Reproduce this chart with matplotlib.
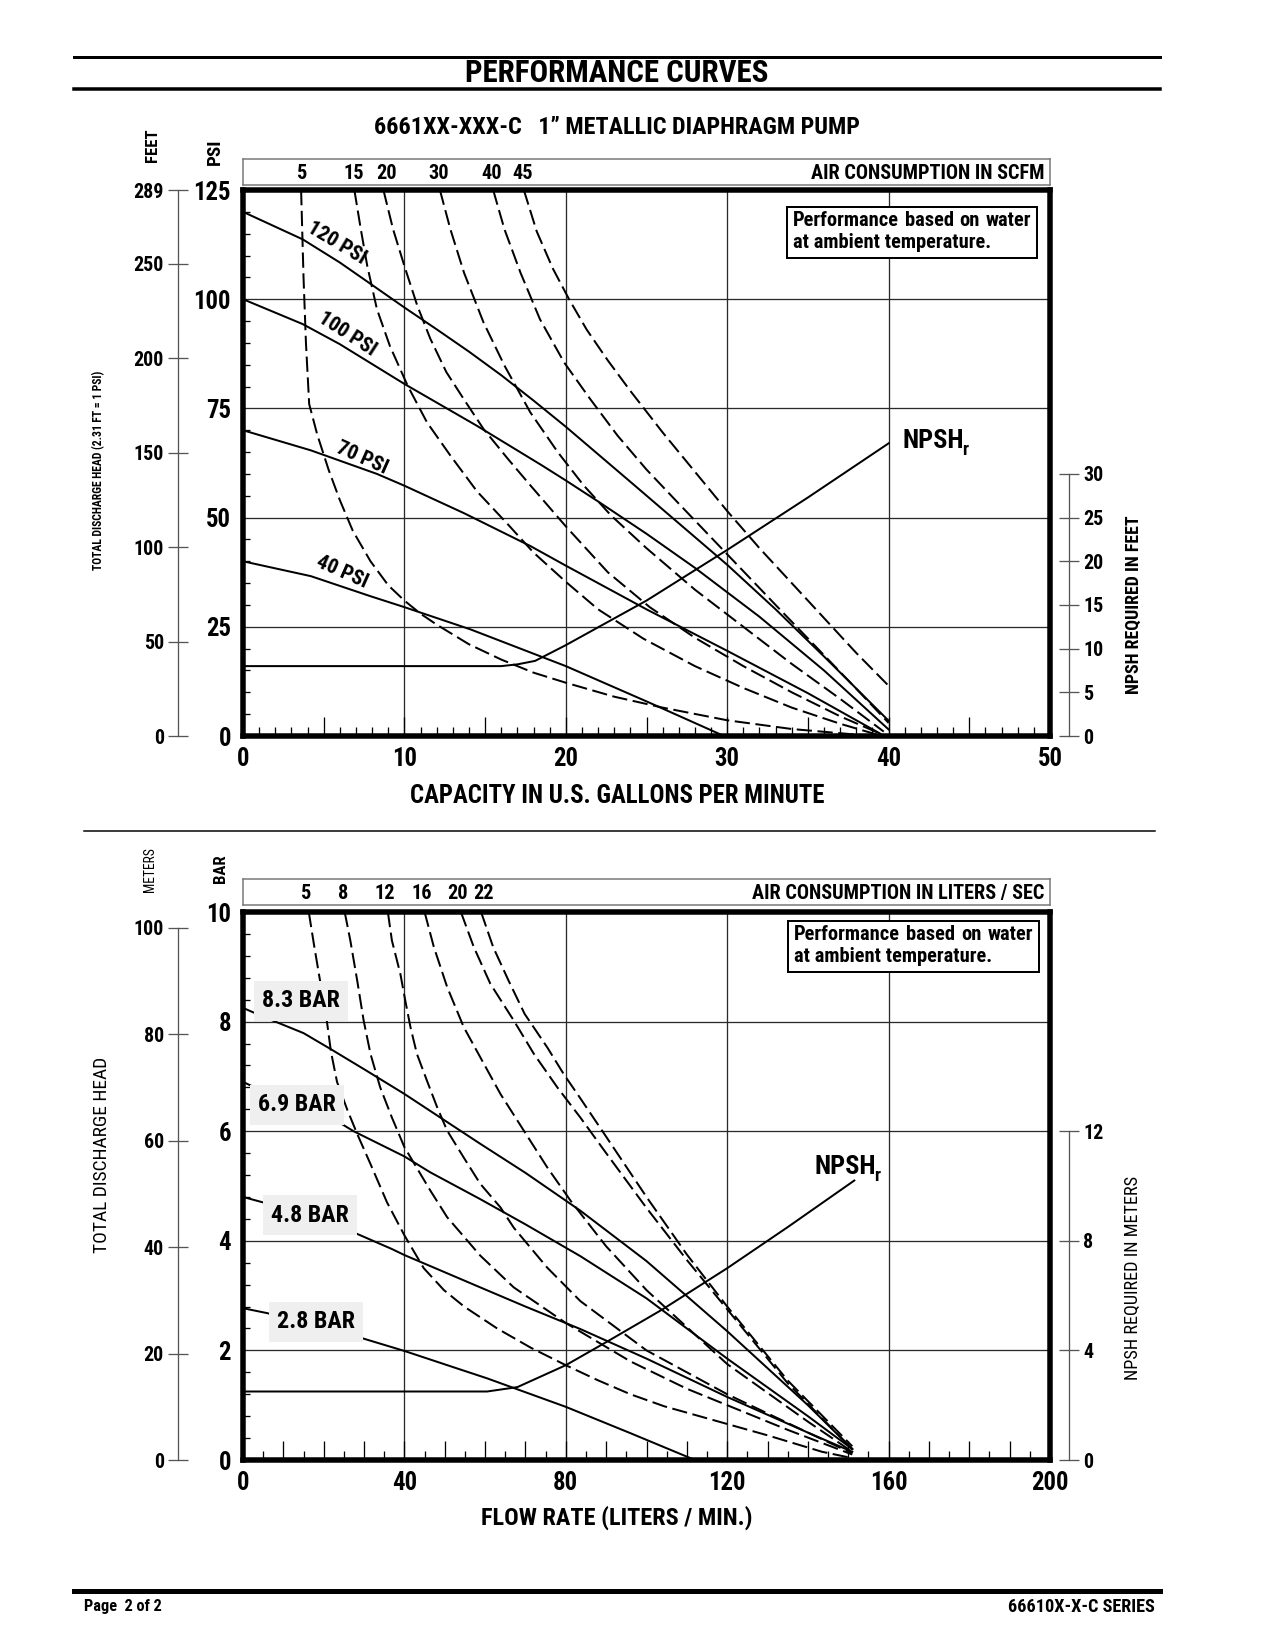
#!/usr/bin/env python3
"""Performance curves sheet for a 1" metallic diaphragm pump (US units on top, metric below)."""
import numpy as np
import matplotlib
matplotlib.use('Agg')
import matplotlib.pyplot as plt
from matplotlib import font_manager as fm
from matplotlib.lines import Line2D
from matplotlib.patches import Rectangle
from matplotlib.ticker import MultipleLocator, FuncFormatter

# ---------------- upper chart: gpm vs psi ----------------
P120_X = [0, 3.7, 6.0, 8.1, 10, 12, 14, 16, 18, 20, 22, 24, 27, 30, 33, 36, 40]
P120_Y = [120, 113.7, 108.4, 103, 98.1, 93.1, 88, 82.6, 76.8, 70.8, 64.5, 58.2, 48.7, 39.2, 29, 18.2, 3.5]
P100_X = [0, 3.7, 6.0, 10, 14.5, 18.5, 20, 22, 25, 28, 32, 36, 40]
P100_Y = [100, 94.3, 89.7, 80.6, 71, 62, 58.5, 53.7, 46.3, 38.5, 27.3, 15, 1.5]
P70_X = [0, 4.2, 8.3, 10, 13.7, 17.8, 20, 25, 30, 35, 39.5]
P70_Y = [70, 65.4, 60, 57.3, 51, 43.5, 39, 29, 19.5, 9.8, 0.5]
P40_X = [0, 4.2, 7.9, 10, 14.1, 20, 25.2, 29.8]
P40_Y = [40, 36.6, 32, 29.5, 24.4, 16, 7.6, 0]
PSI_LABELS = ['120 PSI', '100 PSI', '70 PSI', '40 PSI']

S5_X = [3.6, 3.75, 3.9, 4.1, 4.6, 5.3, 6.0, 6.8, 7.9, 9.0, 10, 11, 12, 14, 16, 18, 20, 23, 26, 30, 34, 39]
S5_Y = [125, 105, 90, 76, 69, 61, 54, 47, 40, 34.5, 31, 28, 25.5, 21, 17.5, 14.5, 12.2, 9.0, 6.5, 3.6, 1.6, 0]
S15_X = [6.9, 7.3, 7.7, 8.3, 9.1, 10.2, 11.4, 12.85, 14.5, 16.4, 18, 20, 22, 24.8, 28, 31, 34, 37, 39.3]
S15_Y = [125, 116, 107.6, 97.7, 89.3, 80.2, 71.8, 64.2, 56, 48.5, 42, 35.3, 29, 22.3, 16, 11, 6.5, 2.8, 0.3]
S20_X = [8.7, 9.3, 10, 10.8, 11.6, 12.6, 13.7, 14.9, 16.4, 17.8, 20, 22.6, 25.2, 28, 31, 34, 37, 39.5]
S20_Y = [125, 116, 107.6, 98.5, 91, 83.3, 77, 70.3, 63.5, 57.4, 48, 37.5, 29.5, 22.5, 16, 10, 4.5, 0.5]
S30_X = [12.2, 12.85, 13.7, 14.9, 16.2, 17.8, 19.5, 21.1, 22.8, 25, 28, 31, 34, 37, 39.7]
S30_Y = [125, 116, 106, 94.7, 84.8, 74.1, 65, 57.4, 50.5, 43, 33.5, 25, 16.5, 8.5, 1]
S40_X = [15.5, 16.2, 17.2, 18.4, 19.9, 21.5, 23.2, 25, 27, 30, 33, 36, 38, 40]
S40_Y = [125, 116, 106, 95.4, 85.5, 77.2, 68.8, 61, 53.2, 41.6, 30, 18.5, 10.8, 3]
S45_X = [17.4, 18.2, 19.2, 20.2, 21.3, 22.6, 24, 26, 28, 30, 32, 34, 36, 38, 40]
S45_Y = [125, 115.5, 107, 100, 93, 86, 79, 69.5, 60.5, 51.5, 43, 35, 27, 19, 11.5]
SCFM_LABELS = ['5', '15', '20', '30', '40', '45']
SCFM_LABEL_X = [3.65, 6.85, 8.9, 12.1, 15.4, 17.3]

NPSH_FT_X = [0, 16, 17, 18.1, 20, 25, 30, 35, 40]
NPSH_FT_Y = [8, 8, 8.2, 8.6, 10.4, 15.5, 21.3, 27.3, 33.5]
FEET_TICKS = [0, 50, 100, 150, 200, 250, 289]
NPSH_FT_TICKS = [0, 5, 10, 15, 20, 25, 30]

# ---------------- lower chart: l/min vs bar ----------------
B83_X = [0, 5, 15, 21.7, 30.7, 40, 58.8, 70, 83.6, 100, 120, 140, 151]
B83_Y = [8.25, 8.09, 7.79, 7.5, 7.1, 6.68, 5.77, 5.24, 4.55, 3.63, 2.35, 1.0, 0.2]
B69_X = [0, 10, 22.5, 27.4, 40, 46.4, 58.8, 70, 83.6, 100, 120, 140, 151]
B69_Y = [6.9, 6.55, 6.22, 6.0, 5.54, 5.25, 4.76, 4.3, 3.72, 2.95, 1.85, 0.8, 0.2]
B48_X = [0, 10, 26.6, 36.9, 40, 58.8, 70, 83.6, 100, 120, 140, 151]
B48_Y = [4.8, 4.6, 4.18, 3.85, 3.74, 3.15, 2.8, 2.39, 1.85, 1.15, 0.5, 0.15]
B28_X = [0, 6, 28.3, 40, 53.1, 60.5, 80, 96, 112]
B28_Y = [2.77, 2.68, 2.25, 1.99, 1.67, 1.49, 0.97, 0.49, 0]
BAR_LABELS = ['8.3 BAR', '6.9 BAR', '4.8 BAR', '2.8 BAR']

L5_X = [16.3, 17.6, 19.2, 20.8, 21.8, 23.3, 25.8, 28.3, 31.6, 35.7, 40, 44.8, 49.8, 54.8, 63, 71.3, 80, 87.8, 96, 104.4, 116, 130, 143.5, 150]
L5_Y = [10, 9.4, 8.7, 8.0, 7.45, 6.9, 6.4, 5.95, 5.4, 4.7, 4.1, 3.5, 3.1, 2.8, 2.4, 2.05, 1.73, 1.46, 1.2, 0.98, 0.74, 0.45, 0.15, 0.05]
L8_X = [25.2, 26.6, 28.3, 29.9, 31.6, 34, 36.9, 40, 46.4, 50.6, 58.8, 67.1, 80, 96, 110, 120, 135, 151]
L8_Y = [10, 9.48, 8.75, 8.02, 7.41, 6.8, 6.25, 5.71, 4.92, 4.43, 3.73, 3.15, 2.5, 1.8, 1.3, 1.0, 0.55, 0.1]
L12_X = [35.9, 36.9, 39, 40.2, 41.5, 43.1, 45.6, 48.1, 50.6, 54.7, 58.8, 63.8, 67.1, 75.4, 83.6, 100, 120, 140, 151]
L12_Y = [10, 9.48, 8.87, 8.39, 7.9, 7.41, 6.92, 6.44, 6.01, 5.52, 5.04, 4.61, 4.24, 3.51, 2.9, 2.0, 1.2, 0.5, 0.12]
L16_X = [45, 47.3, 50.6, 54.7, 58.8, 63.8, 69.6, 75.4, 81.2, 90, 100, 120, 140, 151]
L16_Y = [10, 9.36, 8.63, 7.9, 7.35, 6.68, 6.01, 5.34, 4.73, 3.9, 3.1, 1.75, 0.7, 0.15]
L20_X = [54, 57.2, 61.3, 67.1, 72.1, 77.9, 83.6, 90, 100, 110, 120, 135, 151]
L20_Y = [10, 9.36, 8.69, 8.02, 7.41, 6.8, 6.25, 5.6, 4.6, 3.65, 2.75, 1.4, 0.2]
L22_X = [59, 62, 65.8, 69.8, 75.4, 79.5, 83.6, 90, 100, 110, 120, 135, 151]
L22_Y = [10, 9.36, 8.75, 8.14, 7.53, 7.04, 6.6, 5.9, 4.8, 3.75, 2.8, 1.45, 0.25]
LPS_LABELS = ['5', '8', '12', '16', '20', '22']
LPS_LABEL_X = [15.6, 24.8, 35.2, 44.3, 53.2, 59.5]

NPSH_M_X = [0, 60.5, 68, 80, 90, 104, 120, 135, 151.5]
NPSH_M_Y = [2.5, 2.5, 2.66, 3.46, 4.3, 5.5, 7.0, 8.5, 10.2]
METER_TICKS = [0, 20, 40, 60, 80, 100]
NPSH_M_TICKS = [0, 4, 8, 12]


def pick_font():
    # the original uses a condensed grotesque; use one if the machine has it
    for fam in ['Liberation Sans Narrow', 'Roboto Condensed', 'DejaVu Sans Condensed',
                'Noto Sans Condensed', 'Open Sans Condensed', 'Arial Narrow',
                'Noto Sans', 'Open Sans', 'DejaVu Sans']:
        try:
            path = fm.findfont(fm.FontProperties(family=fam, weight='bold', stretch='condensed'),
                               fallback_to_default=False)
        except ValueError:
            continue
        if 'narrow' in path.lower() or 'condensed' in path.lower():
            return fam, 'condensed', 1.15
    return 'Liberation Sans', 'normal', 1.0


FAMILY, STRETCH, K = pick_font()
plt.rcParams['font.family'] = [FAMILY, 'DejaVu Sans']
plt.rcParams['font.stretch'] = STRETCH
plt.rcParams['font.weight'] = 'bold'
plt.rcParams['lines.scale_dashes'] = False

W, H = 1275, 1650
PT = 72 / 100          # points per pixel at dpi 100
DASH = (11, 4)

fig = plt.figure(figsize=(W / 100, H / 100), dpi=100)
renderer = fig.canvas.get_renderer()


def rect(l, t, r, b):
    return [l / W, 1 - b / H, (r - l) / W, (b - t) / H]


def ftext(x, y, s, size, **kw):
    kw.setdefault('ha', 'center')
    kw.setdefault('va', 'center')
    return fig.text(x / W, 1 - y / H, s, fontsize=size * K, **kw)


def hline(y, x0, x1, lw):
    fig.add_artist(Line2D([x0 / W, x1 / W], [1 - y / H] * 2, color='black', lw=lw * PT))


def panel(top, bottom, xmax, xgrid, xlong, xshort, ymax, ygrid, yminor):
    ax = fig.add_axes(rect(243, top, 1050, bottom))
    ax.set_xlim(0, xmax)
    ax.set_ylim(0, ymax)
    for s in ax.spines.values():
        s.set_linewidth(5.5 * PT)
        s.set_zorder(6)
    for g in np.arange(xgrid, xmax, xgrid):
        ax.axvline(g, color='#2a2a2a', lw=1.3 * PT, zorder=1)
    for g in np.arange(ygrid, ymax, ygrid):
        ax.axhline(g, color='#2a2a2a', lw=1.3 * PT, zorder=1)
    ax.xaxis.set_major_locator(MultipleLocator(xlong))
    ax.xaxis.set_minor_locator(MultipleLocator(xshort))
    ax.xaxis.set_major_formatter(FuncFormatter(
        lambda v, p: f'{v:g}' if abs(v / xgrid - round(v / xgrid)) < 1e-6 else ''))
    ax.yaxis.set_major_locator(MultipleLocator(ygrid))
    ax.yaxis.set_minor_locator(MultipleLocator(yminor))
    ax.yaxis.set_major_formatter(FuncFormatter(lambda v, p: f'{v:g}'))
    ax.tick_params(which='both', direction='in', top=False, right=False,
                   width=1.3 * PT, color='black')
    ax.tick_params(axis='x', which='major', length=19 * PT, pad=11 * PT, labelsize=15.5 * K)
    ax.tick_params(axis='x', which='minor', length=9 * PT)
    ax.tick_params(axis='y', which='major', length=0, pad=12 * PT, labelsize=15.5 * K)
    ax.tick_params(axis='y', which='minor', length=7 * PT)
    return ax


def side(ax, top, ticks, where, lo, hi):
    tw = ax.twinx()
    tw.set_ylim(0, top)
    for s in tw.spines.values():
        s.set_visible(False)
    sp = tw.spines[where]
    sp.set_visible(True)
    sp.set_position(('outward', (65 if where == 'left' else 19) * PT))
    sp.set_bounds(lo, hi)
    sp.set_linewidth(1.3 * PT)
    sp.set_color('#555555')
    tw.yaxis.set_ticks_position(where)
    tw.set_yticks(ticks, [str(t) for t in ticks])
    tw.tick_params(axis='y', direction='inout', length=20 * PT, width=1.3 * PT,
                   color='#555555', pad=4 * PT, labelsize=12.5 * K)
    return tw


def air_box(top, bottom, xmax, xs, labels, title):
    bx = fig.add_axes(rect(243, top, 1050, bottom))
    bx.set_xlim(0, xmax)
    bx.set_ylim(0, 1)
    bx.set_xticks([])
    bx.set_yticks([])
    for s in bx.spines.values():
        s.set_linewidth(1.5 * PT)
        s.set_color('#777777')
    for x, lab in zip(xs, labels):
        bx.text(x, 0.45, lab, ha='center', va='center', fontsize=12.7 * K)
    bx.text(0.993, 0.45, title, transform=bx.transAxes, ha='right', va='center',
            fontsize=12.7 * K)


def perf_box(l, t, r, b):
    fig.add_artist(Rectangle((l / W, 1 - b / H), (r - l) / W, (b - t) / H,
                             transform=fig.transFigure, fc='white', ec='black', lw=2 * PT))
    words = ['Performance', 'based', 'on', 'water']
    ts = [ftext(0, t + 14, w, 12.8, ha='left') for w in words]
    ws = [x.get_window_extent(renderer).width for x in ts]
    gap = (r - l - 12 - sum(ws)) / (len(ws) - 1)
    x = l + 6
    for tx, w in zip(ts, ws):
        tx.set_x(x / W)
        x += w + gap
    ftext(l + 6, t + 36, 'at ambient temperature.', 12.8, ha='left')


def npsh_label(x, y):
    t = ftext(x, y, 'NPSH', 16.5, ha='left')
    w = t.get_window_extent(renderer).width
    ftext(x + w - 2, y + 9, 'r', 11.5, ha='left')


solid = dict(color='black', lw=2 * PT, zorder=3)
dashed = dict(color='black', lw=2 * PT, zorder=3, dashes=DASH)

# ---------------- page frame ----------------
hline(57, 74, 1160, 3)
hline(89, 74, 1160, 3.5)
ftext(617, 73, 'PERFORMANCE CURVES', 19.4)
ftext(617, 128, '6661XX-XXX-C   1\u201d METALLIC DIAPHRAGM PUMP', 15.1)
hline(831, 84, 1155, 1.5)
hline(1591, 74, 1160, 5)
ftext(84, 1607, 'Page  2 of 2', 10.2, ha='left')
ftext(1155, 1607, '66610X-X-C SERIES', 11.4, ha='right')

# ---------------- upper chart ----------------
ax = panel(190, 736, 50, 10, 5, 1, 125, 25, 5)
for xs, ys in [(P120_X, P120_Y), (P100_X, P100_Y), (P70_X, P70_Y), (P40_X, P40_Y)]:
    ax.plot(xs, ys, **solid)
for xs, ys in [(S5_X, S5_Y), (S15_X, S15_Y), (S20_X, S20_Y), (S30_X, S30_Y),
               (S40_X, S40_Y), (S45_X, S45_Y)]:
    ax.plot(xs, ys, **dashed)
for lab, (x, y, rot) in zip(PSI_LABELS, [(5.8, 112.9, -31), (6.45, 92.0, -33),
                                        (7.37, 63.6, -24), (6.13, 37.5, -24)]):
    ax.text(x, y, lab, rotation=rot, rotation_mode='anchor', ha='center', va='center',
            fontsize=13 * K, zorder=4)
side(ax, FEET_TICKS[-1], FEET_TICKS, 'left', 0, FEET_TICKS[-1])
nt = side(ax, 62.5, NPSH_FT_TICKS, 'right', 0, 30)
nt.plot(NPSH_FT_X, NPSH_FT_Y, **solid)
air_box(159, 185, 50, SCFM_LABEL_X, SCFM_LABELS, 'AIR CONSUMPTION IN SCFM')
perf_box(787, 207, 1037, 258)
npsh_label(903, 441)
ftext(152, 145, 'FEET', 10.5, rotation=90)
ftext(215, 152, 'PSI', 12, rotation=90)
ftext(99, 470, 'TOTAL DISCHARGE HEAD (2.31 FT = 1 PSI)', 7.3, rotation=90)
ftext(1134, 605, 'NPSH REQUIRED IN FEET', 11.2, rotation=90)
ftext(617, 796, 'CAPACITY IN U.S. GALLONS PER MINUTE', 15.5)

# ---------------- lower chart ----------------
bx = panel(912, 1460, 200, 40, 10, 5, 10, 2, 0.4)
for xs, ys in [(B83_X, B83_Y), (B69_X, B69_Y), (B48_X, B48_Y), (B28_X, B28_Y)]:
    bx.plot(xs, ys, **solid)
for xs, ys in [(L5_X, L5_Y), (L8_X, L8_Y), (L12_X, L12_Y), (L16_X, L16_Y),
               (L20_X, L20_Y), (L22_X, L22_Y)]:
    bx.plot(xs, ys, **dashed)
for lab, (x, y) in zip(BAR_LABELS, [(14.4, 8.38), (13.4, 6.48), (16.6, 4.47), (18.1, 2.52)]):
    bx.text(x, y, lab, ha='center', va='center', fontsize=15 * K, zorder=4,
            bbox=dict(boxstyle='square,pad=0.35', fc='#efefef', ec='none'))
side(bx, 103, METER_TICKS, 'left', 0, 100)
mt = side(bx, 20, NPSH_M_TICKS, 'right', 0, 12)
mt.plot(NPSH_M_X, NPSH_M_Y, **solid)
air_box(879, 905, 200, LPS_LABEL_X, LPS_LABELS, 'AIR CONSUMPTION IN LITERS / SEC')
perf_box(788, 921, 1039, 972)
npsh_label(815, 1167)
ftext(150, 870, 'METERS', 8.5, rotation=90, fontweight='normal')
ftext(220, 869, 'BAR', 10.5, rotation=90)
ftext(102, 1155, 'TOTAL DISCHARGE HEAD', 12.1, rotation=90, fontweight='normal')
ftext(1133, 1278, 'NPSH REQUIRED IN METERS', 11.4, rotation=90, fontweight='normal')
ftext(617, 1518, 'FLOW RATE (LITERS / MIN.)', 15.2)

fig.savefig('out.png', dpi=100)
